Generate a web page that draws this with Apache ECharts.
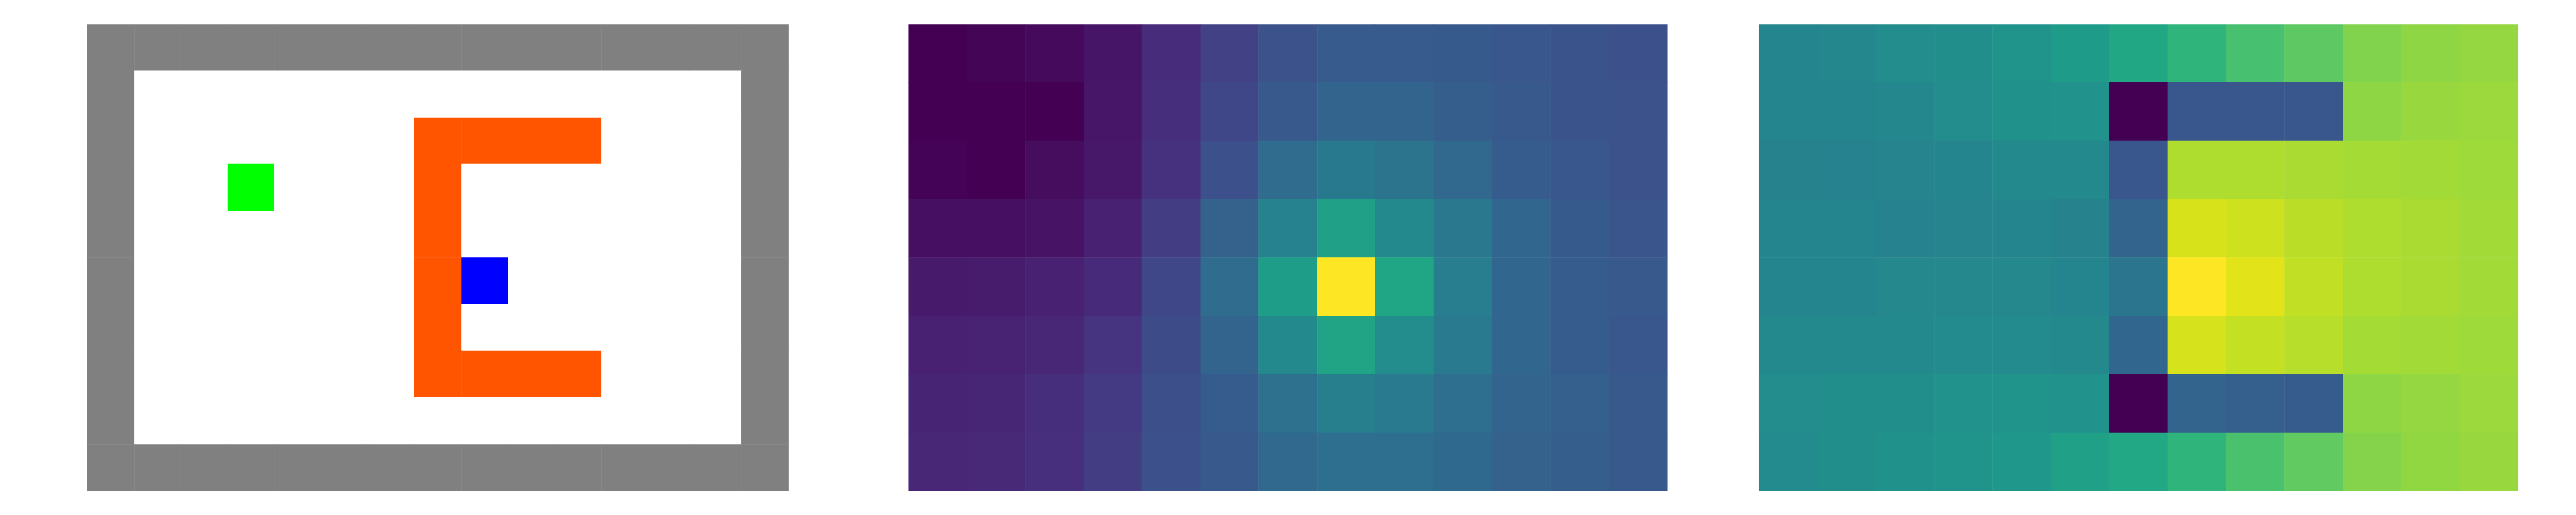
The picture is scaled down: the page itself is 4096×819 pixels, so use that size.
<!DOCTYPE html>
<html>
<head>
<meta charset="utf-8">
<script src="https://cdn.jsdelivr.net/npm/echarts@6/dist/echarts.min.js"></script>
<style>
html,body{margin:0;padding:0;background:#ffffff;}
#chart{width:4096px;height:819px;}
</style>
</head>
<body>
<div id="chart"></div>
<script>
// Panel 1: coded cells (0 white, 1 gray, 2 green, 3 orange, 4 blue), 10 rows x 15 cols
const panel1Codes = [
  [1,1,1,1,1,1,1,1,1,1,1,1,1,1,1],
  [1,0,0,0,0,0,0,0,0,0,0,0,0,0,1],
  [1,0,0,0,0,0,0,3,3,3,3,0,0,0,1],
  [1,0,0,2,0,0,0,3,0,0,0,0,0,0,1],
  [1,0,0,0,0,0,0,3,0,0,0,0,0,0,1],
  [1,0,0,0,0,0,0,3,4,0,0,0,0,0,1],
  [1,0,0,0,0,0,0,3,0,0,0,0,0,0,1],
  [1,0,0,0,0,0,0,3,3,3,3,0,0,0,1],
  [1,0,0,0,0,0,0,0,0,0,0,0,0,0,1],
  [1,1,1,1,1,1,1,1,1,1,1,1,1,1,1]
];
const panel1Colors = ['#ffffff','#808080','#00ff00','#ff5500','#0000ff'];

// Panel 2: 8 rows x 13 cols (normalised 0..1)
const panel2Values = [
  [0.00,0.01,0.025,0.055,0.125,0.19,0.25,0.285,0.285,0.28,0.27,0.255,0.245],
  [0.00,0.00,0.00,0.06,0.13,0.21,0.275,0.32,0.32,0.295,0.275,0.255,0.25],
  [0.005,0.00,0.03,0.065,0.14,0.245,0.35,0.405,0.38,0.335,0.29,0.27,0.25],
  [0.04,0.04,0.05,0.09,0.18,0.31,0.44,0.57,0.47,0.40,0.33,0.28,0.26],
  [0.07,0.075,0.09,0.12,0.21,0.35,0.555,1.00,0.59,0.42,0.33,0.29,0.275],
  [0.09,0.095,0.11,0.15,0.23,0.32,0.47,0.585,0.48,0.41,0.33,0.29,0.27],
  [0.10,0.105,0.13,0.17,0.24,0.29,0.37,0.43,0.41,0.36,0.32,0.30,0.275],
  [0.11,0.115,0.135,0.18,0.245,0.275,0.335,0.36,0.36,0.34,0.31,0.295,0.275]
];

// Panel 3: 8 rows x 13 cols (normalised 0..1)
const panel3Values = [
  [0.455,0.46,0.48,0.49,0.51,0.55,0.595,0.65,0.705,0.75,0.81,0.83,0.84],
  [0.455,0.455,0.46,0.48,0.50,0.505,0.00,0.27,0.27,0.27,0.83,0.845,0.85],
  [0.445,0.44,0.45,0.455,0.47,0.47,0.27,0.88,0.88,0.87,0.865,0.86,0.855],
  [0.455,0.455,0.44,0.45,0.455,0.445,0.32,0.94,0.925,0.895,0.88,0.87,0.86],
  [0.455,0.455,0.465,0.465,0.465,0.455,0.39,1.00,0.955,0.905,0.88,0.87,0.86],
  [0.47,0.47,0.47,0.475,0.475,0.47,0.33,0.935,0.91,0.89,0.865,0.86,0.855],
  [0.48,0.49,0.49,0.505,0.51,0.505,0.00,0.32,0.30,0.29,0.83,0.84,0.85],
  [0.475,0.49,0.50,0.51,0.525,0.57,0.60,0.65,0.71,0.755,0.815,0.835,0.845]
];

const viridis = ['#440154','#471365','#482475','#463480','#414487','#3b528b','#355f8d','#2f6c8e','#2a788e','#25848e','#21918c','#1e9c89','#22a884','#2fb47c','#44bf70','#5ec962','#7ad151','#9bd93c','#bddf26','#dfe318','#fde725'];

function toCells(m){
  const out=[];
  for(let r=0;r<m.length;r++) for(let c=0;c<m[r].length;c++) out.push([c,r,m[r][c]]);
  return out;
}
function idx(n){return Array.from({length:n},(_,i)=>String(i));}

const grids = [
  {left:139.1, top:38.4, width:1114.5, height:742.4},
  {left:1444.7, top:38.4, width:1206.6, height:742.4},
  {left:2797.2, top:38.4, width:1206.6, height:742.4}
];
const mats = [panel1Codes, panel2Values, panel3Values];

const chart = echarts.init(document.getElementById('chart'), null, {renderer:'canvas'});
const option = {
  animation:false,
  backgroundColor:'#ffffff',
  grid: grids.map(g=>Object.assign({containLabel:false, show:false}, g)),
  xAxis: mats.map((m,i)=>({type:'category', gridIndex:i, data:idx(m[0].length), show:false, boundaryGap:true})),
  yAxis: mats.map((m,i)=>({type:'category', gridIndex:i, data:idx(m.length), show:false, inverse:true, boundaryGap:true})),
  visualMap: [
    {type:'piecewise', show:false, seriesIndex:0, dimension:2,
     pieces: panel1Colors.map((c,i)=>({value:i, color:c}))},
    {type:'continuous', show:false, seriesIndex:1, dimension:2, min:0, max:1, inRange:{color:viridis}},
    {type:'continuous', show:false, seriesIndex:2, dimension:2, min:0, max:1, inRange:{color:viridis}}
  ],
  series: mats.map((m,i)=>({
    type:'heatmap', xAxisIndex:i, yAxisIndex:i, data:toCells(m),
    itemStyle:{borderWidth:0}, emphasis:{disabled:true}, progressive:0
  }))
};
chart.setOption(option);
</script>
</body>
</html>
